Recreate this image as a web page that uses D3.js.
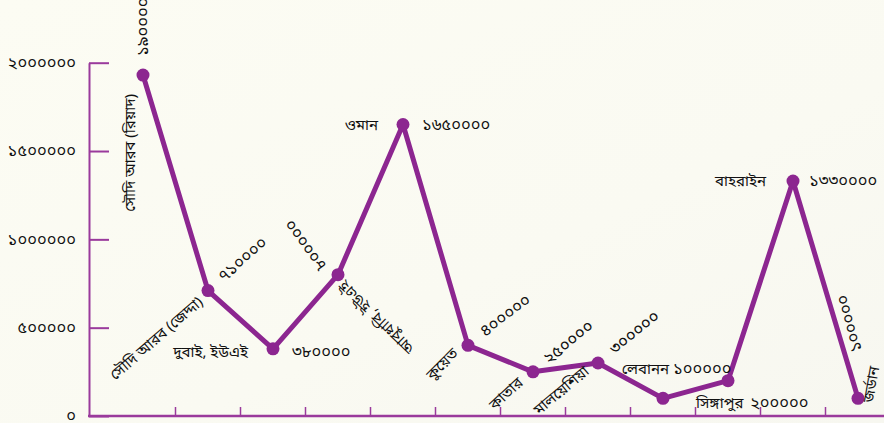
<!DOCTYPE html>
<html>
<head>
<meta charset="utf-8">
<script src="https://cdn.jsdelivr.net/npm/d3@7/dist/d3.min.js"></script>
<style>
  html, body { margin: 0; padding: 0; background: #fbfbf3; }
  svg { display: block; }
  text { font-family: "Noto Sans Bengali", "Noto Serif Bengali", "Lohit Bengali", "FreeSerif", "Noto Sans", sans-serif; fill: #111; }
</style>
</head>
<body>
<svg id="chart" width="884" height="423"></svg>
<script>
// ---- data ----
const categories = [
  "সৌদি আরব (রিয়াদ)", "সৌদি আরব (জেদ্দা)", "দুবাই, ইউএই", "আবুধাবি, ইউএই",
  "ওমান", "কুয়েত", "কাতার", "মালয়েশিয়া", "লেবানন", "সিঙ্গাপুর", "বাহরাইন", "জর্ডান"
];
const values = [1930000, 710000, 380000, 800000, 1650000, 400000, 250000, 300000, 100000, 200000, 1330000, 100000];
const valueLabels = ["১৯০০০০০", "৭১০০০০", "৩৮০০০০", "৮০০০০০", "১৬৫০০০০", "৪০০০০০", "২৫০০০০", "৩০০০০০", "১০০০০০", "২০০০০০", "১৩৩০০০০", "১০০০০০"];
const yTickValues = [0, 500000, 1000000, 1500000, 2000000];
const yTickLabels = ["০", "৫০০০০০", "১০০০০০০", "১৫০০০০০", "২০০০০০০"];

// ---- label layout (offsets from the point, rotation, anchor) ----
const nameLayout = [
  {dx: -8, dy: 19, rot: -90, anchor: "end"},
  {dx: -4, dy: 13, rot: -41, anchor: "end"},
  {dx: -25, dy: 8, rot: 0, anchor: "end"},
  {dx: 7, dy: 5, rot: 224, anchor: "end"},
  {dx: -25, dy: 5, rot: 0, anchor: "end"},
  {dx: -9, dy: 9, rot: -45, anchor: "end"},
  {dx: -9, dy: 12, rot: -43, anchor: "end"},
  {dx: -8, dy: 10, rot: -40, anchor: "end"},
  {dx: 6, dy: -24, rot: 0, anchor: "end"},
  {dx: -32, dy: 27, rot: 0, anchor: "start"},
  {dx: -27, dy: 5, rot: 0, anchor: "end"},
  {dx: 15, dy: 5, rot: -80, anchor: "start"}
];
const valueLayout = [
  {dx: 5, dy: -19, rot: -90, anchor: "start"},
  {dx: 16, dy: -8, rot: -41, anchor: "start"},
  {dx: 19, dy: 8, rot: 0, anchor: "start"},
  {dx: -11, dy: -9, rot: 234, anchor: "start"},
  {dx: 19, dy: 5, rot: 0, anchor: "start"},
  {dx: 17, dy: -8, rot: -37, anchor: "start"},
  {dx: 16, dy: -7, rot: -39, anchor: "start"},
  {dx: 17, dy: -8, rot: -39, anchor: "start"},
  {dx: 10, dy: -24, rot: 0, anchor: "start"},
  {dx: 22, dy: 27, rot: 0, anchor: "start"},
  {dx: 16, dy: 5, rot: 0, anchor: "start"},
  {dx: 4, dy: -48, rot: 255, anchor: "start"}
];

const lineColor = "#8c2690";
const axisColor = "#9a3a9c";

const svg = d3.select("#chart");

// background
const defs = svg.append("defs");
const grad = defs.append("linearGradient").attr("id", "bg").attr("x1", "0").attr("y1", "0").attr("x2", "1").attr("y2", "1");
grad.append("stop").attr("offset", "0").attr("stop-color", "#fcfcf3");
grad.append("stop").attr("offset", "0.6").attr("stop-color", "#fafaf2");
grad.append("stop").attr("offset", "1").attr("stop-color", "#f7f7f0");
svg.append("rect").attr("width", 884).attr("height", 423).attr("fill", "url(#bg)");

const y = d3.scaleLinear().domain([0, 2000000]).range([416, 62.7]);
const x = d3.scaleBand().domain(categories).range([110.5, 110.5 + 65 * categories.length]);
const cx = c => x(c) + x.bandwidth() / 2;

// y axis
const yAxis = d3.axisLeft(y)
  .tickValues(yTickValues)
  .tickFormat((d, i) => yTickLabels[i])
  .tickSizeInner(-20)
  .tickSizeOuter(0)
  .tickPadding(13);
const gy = svg.append("g").attr("transform", "translate(89,0)").call(yAxis);
gy.selectAll("path, line").attr("stroke", axisColor).attr("stroke-width", 2);
gy.selectAll("text").style("font-size", "16.5px").style("font-family", null).attr("fill", "#111").attr("dy", "0.3em");

// x axis
svg.append("line")
  .attr("x1", 88).attr("x2", 884)
  .attr("y1", y(0)).attr("y2", y(0))
  .attr("stroke", axisColor).attr("stroke-width", 2.5);
svg.append("g").selectAll("line")
  .data(categories.slice(1))
  .join("line")
  .attr("x1", d => x(d)).attr("x2", d => x(d))
  .attr("y1", y(0)).attr("y2", y(0) - 9)
  .attr("stroke", axisColor).attr("stroke-width", 1.5);

// line
const pts = categories.map((c, i) => ({c, v: values[i], i}));
svg.append("path")
  .datum(pts)
  .attr("fill", "none")
  .attr("stroke", lineColor)
  .attr("stroke-width", 5)
  .attr("stroke-linejoin", "round")
  .attr("d", d3.line().x(d => cx(d.c)).y(d => y(d.v)));

svg.append("g").selectAll("circle")
  .data(pts)
  .join("circle")
  .attr("cx", d => cx(d.c))
  .attr("cy", d => y(d.v))
  .attr("r", 6.5)
  .attr("fill", lineColor);

// labels
function addLabels(texts, layout, size) {
  svg.append("g").selectAll("text")
    .data(pts)
    .join("text")
    .attr("text-anchor", d => layout[d.i].anchor)
    .attr("transform", d => {
      const L = layout[d.i];
      return `translate(${cx(d.c) + L.dx},${y(d.v) + L.dy}) rotate(${L.rot})`;
    })
    .style("font-size", size)
    .text(d => texts[d.i]);
}
addLabels(categories, nameLayout, "15px");
addLabels(valueLabels, valueLayout, "16.5px");
</script>
</body>
</html>
